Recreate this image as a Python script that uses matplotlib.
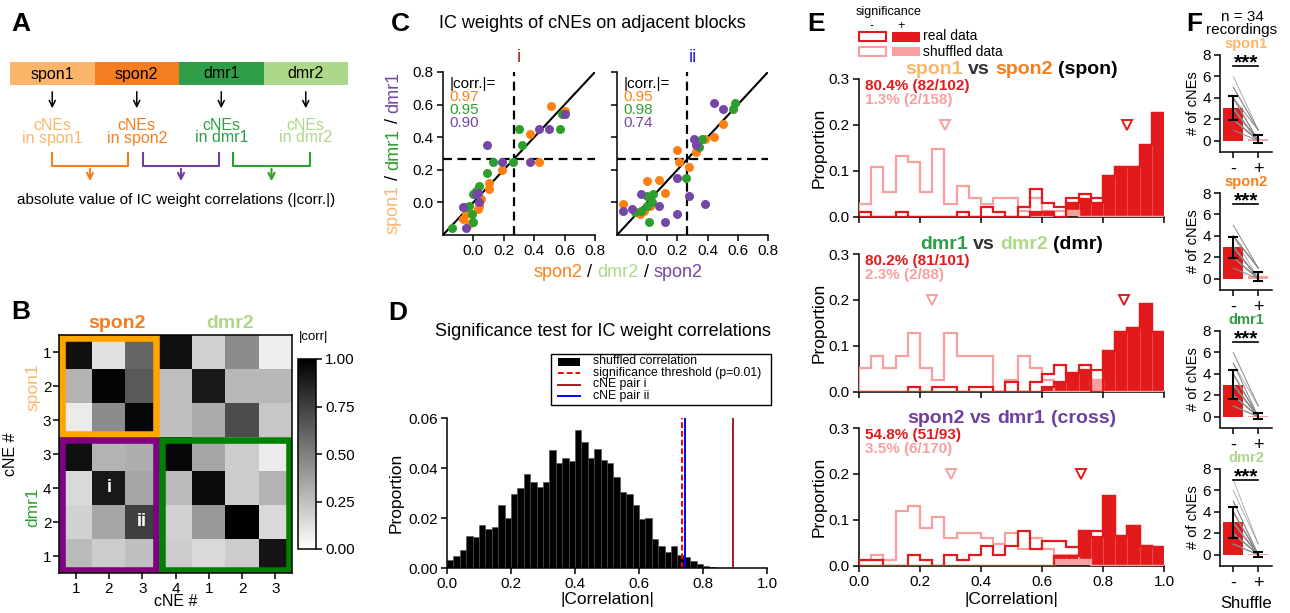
import numpy as np
import matplotlib
matplotlib.use("Agg")
import matplotlib.pyplot as plt
from matplotlib.patches import Rectangle
from matplotlib.transforms import offset_copy

W, H = 1290, 613

LORANGE = '#FBB66C'
ORANGE = '#F47E20'
GREEN = '#2E9E48'
LGREEN = '#AED889'
PURPLE = '#7040A0'
S_ORANGE = '#FF8012'
S_GREEN = '#2CA02C'
S_PURPLE = '#7446A6'
RED = '#E31A1C'
PINK = '#F8A0A0'
DARK = '#333333'

# ---------------- panel A
blocks = ['spon1', 'spon2', 'dmr1', 'dmr2']
block_colors = [LORANGE, ORANGE, GREEN, LGREEN]
pair_colors = [ORANGE, PURPLE, S_GREEN]

# ---------------- panel B (|corr| between cNEs)
b_corr = [
    [0.93, 0.12, 0.60, 0.93, 0.18, 0.45, 0.07],
    [0.30, 0.98, 0.65, 0.25, 0.90, 0.28, 0.28],
    [0.08, 0.45, 0.97, 0.25, 0.33, 0.70, 0.22],
    [0.93, 0.30, 0.32, 0.97, 0.35, 0.20, 0.08],
    [0.15, 0.90, 0.35, 0.27, 0.95, 0.20, 0.30],
    [0.18, 0.35, 0.75, 0.18, 0.40, 1.00, 0.15],
    [0.27, 0.20, 0.25, 0.20, 0.15, 0.20, 0.92],
]
b_xticks = ['1', '2', '3', '4', '1', '2', '3']
b_yticks = ['1', '2', '3', '3', '4', '2', '1']

# ---------------- panel C (IC weights)
ci_orange_x = [0.51, 0.60, 0.37, 0.43, 0.19, 0.10, 0.10, 0.05, 0.04, 0.03, -0.05, -0.03, -0.07, -0.01]
ci_orange_y = [0.59, 0.56, 0.42, 0.25, 0.20, 0.12, 0.08, 0.02, -0.02, -0.04, -0.07, -0.13, -0.10, -0.12]
ci_green_x = [0.58, 0.57, 0.30, 0.32, 0.13, 0.26, 0.09, 0.04, 0.02, 0.00, -0.03, -0.01, 0.00, -0.14, -0.05]
ci_green_y = [0.54, 0.45, 0.45, 0.35, 0.25, 0.25, 0.18, 0.10, 0.07, 0.05, -0.02, -0.07, -0.12, -0.16, -0.03]
ci_purple_x = [0.60, 0.50, 0.43, 0.37, 0.19, 0.09, 0.03, 0.02, -0.07, -0.05, 0.04]
ci_purple_y = [0.54, 0.45, 0.45, 0.25, 0.25, 0.35, 0.06, 0.05, -0.03, -0.16, 0.00]

cii_orange_x = [-0.16, 0.00, 0.08, 0.12, 0.20, 0.21, 0.28, 0.32, 0.38, 0.44, 0.50, -0.05, 0.02, -0.02]
cii_orange_y = [-0.01, 0.13, 0.14, 0.06, 0.32, 0.25, 0.22, 0.31, 0.39, 0.40, 0.48, -0.07, -0.02, -0.05]
cii_green_x = [0.58, 0.57, 0.36, 0.34, 0.26, 0.04, 0.00, 0.00, -0.08, 0.01, -0.04, 0.03]
cii_green_y = [0.61, 0.57, 0.39, 0.34, 0.15, 0.05, 0.04, -0.02, -0.06, -0.12, -0.05, 0.00]
cii_purple_x = [0.44, 0.50, 0.31, 0.32, 0.20, 0.28, 0.38, 0.20, 0.12, 0.08, -0.04, -0.16, -0.10]
cii_purple_y = [0.61, 0.57, 0.39, 0.35, 0.15, 0.04, -0.01, -0.07, -0.12, -0.02, 0.05, -0.05, -0.04]

ci_corr = ['0.97', '0.95', '0.90']
cii_corr = ['0.95', '0.98', '0.74']
c_thresh = 0.265

# ---------------- panel D (shuffled |corr| distribution, bins of 0.02)
d_props = [0.0034, 0.0047, 0.0074, 0.0127, 0.0125, 0.0174, 0.0158, 0.0165, 0.0252, 0.0201,
           0.0296, 0.0319, 0.0376, 0.0346, 0.0325, 0.0346, 0.0473, 0.0419, 0.0439, 0.0430,
           0.0553, 0.0506, 0.0439, 0.0476, 0.0433, 0.0419, 0.0366, 0.0305, 0.0298, 0.0252,
           0.0198, 0.0201, 0.0118, 0.0088, 0.0064, 0.0087, 0.0054, 0.0044, 0.0027, 0.0015,
           0.0010, 0.0004, 0.0002, 0.0001, 0.0001, 0.0001, 0.0001, 0.0, 0.0, 0.0]
d_thresh = 0.733
d_pair_i = 0.895
d_pair_ii = 0.745

# ---------------- panel E (bins of 0.04)
e_spon_real_sig = [0, 0, 0, 0, 0, 0, 0, 0, 0, 0, 0, 0, 0, 0, .010, .010, 0, .030, .039, .030, .088, .108, .108, .157, .225]
e_spon_real_non = [.010, 0, 0, .010, 0, 0, 0, 0, .010, 0, .020, .010, 0, .020, .049, .020, .020, .010, .010, .010, 0, 0, 0, 0, 0]
e_spon_shuf_sig = [0, 0, 0, 0, 0, 0, 0, 0, 0, 0, 0, 0, 0, 0, 0, 0, 0, .013, 0, 0, 0, 0, 0, 0, 0]
e_spon_shuf_non = [.027, .107, .053, .133, .120, .053, .147, .027, .067, .040, .027, .040, .040, .013, .040, .013, .013, 0, 0, 0, 0, 0, 0, 0, 0]

e_dmr_real_sig = [0, 0, 0, 0, 0, 0, 0, 0, 0, 0, 0, 0, 0, 0, 0, .010, .020, .040, .048, 0, .089, .129, .139, .190, .130]
e_dmr_real_non = [0, 0, 0, 0, .010, 0, .010, .010, 0, .010, .010, 0, .020, 0, .020, .028, .037, 0, .010, .048, 0, 0, 0, 0, 0]
e_dmr_shuf_sig = [0, 0, 0, 0, 0, 0, 0, 0, 0, 0, 0, 0, 0, 0, 0, 0, 0, 0, 0, .026, 0, 0, 0, 0, 0]
e_dmr_shuf_non = [.051, .077, .051, .077, .128, .051, .026, .128, .077, .077, .077, 0, .026, .077, .051, .026, 0, 0, 0, 0, 0, 0, 0, 0, 0]

e_cross_real_sig = [0, 0, 0, 0, 0, 0, 0, 0, 0, 0, 0, 0, 0, 0, 0, 0, .020, .020, .076, .062, .152, .065, .087, .043, .040]
e_cross_real_non = [.011, .011, 0, 0, .022, .011, 0, .022, .011, .022, .043, .022, .043, .075, .035, .054, .034, .021, 0, .014, 0, 0, 0, 0, 0]
e_cross_shuf_sig = [0, 0, 0, 0, 0, 0, 0, 0, 0, 0, 0, 0, 0, 0, 0, 0, .012, .012, .012, 0, 0, 0, 0, 0, 0]
e_cross_shuf_non = [.012, .024, .012, .118, .129, .082, .106, .059, .071, .071, .059, .047, .071, .035, .059, .035, .012, .012, 0, 0, 0, 0, 0, 0, 0]

e_real_pct = ['80.4% (82/102)', '80.2% (81/101)', '54.8% (51/93)']
e_shuf_pct = ['1.3% (2/158)', '2.3% (2/88)', '3.5% (6/170)']
e_real_median = [0.879, 0.870, 0.728]
e_shuf_median = [0.282, 0.240, 0.300]

# ---------------- panel F (# of cNEs per recording, n = 34)
f_names = ['spon1', 'spon2', 'dmr1', 'dmr2']
f_colors = [LORANGE, ORANGE, GREEN, LGREEN]
f_real = [
    [6, 5, 5, 5, 4, 4, 4, 4, 4, 3, 3, 3, 3, 3, 3, 3, 3, 3, 3, 3, 3, 2, 2, 2, 2, 2, 2, 2, 2, 2, 1, 1, 4, 3],
    [5, 5, 4, 4, 4, 4, 4, 4, 3, 3, 3, 3, 3, 3, 3, 3, 3, 3, 3, 3, 3, 2, 2, 2, 2, 2, 2, 2, 2, 4, 2, 1, 1, 3],
    [6, 6, 5, 5, 4, 4, 4, 4, 3, 3, 3, 3, 3, 3, 3, 3, 3, 2, 2, 2, 2, 2, 2, 2, 2, 2, 1, 1, 1, 1, 4, 3, 3, 5],
    [7, 6, 5, 5, 5, 4, 4, 4, 4, 3, 3, 3, 3, 3, 3, 3, 2, 2, 2, 2, 2, 2, 2, 2, 1, 1, 1, 1, 4, 3, 4, 3, 2, 2],
]
f_shuf = [
    [1] * 6 + [0] * 28,
    [1] * 8 + [0] * 26,
    [1] * 3 + [0] * 31,
    [1] * 2 + [0] * 32,
]

plt.rcParams['font.family'] = ['Liberation Sans', 'DejaVu Sans']
plt.rcParams.update({
    'axes.linewidth': 1.1,
    'xtick.major.width': 1.1, 'ytick.major.width': 1.1,
    'xtick.major.size': 4, 'ytick.major.size': 4,
    'xtick.labelsize': 11, 'ytick.labelsize': 11,
    'xtick.major.pad': 2.5, 'ytick.major.pad': 2.5,
})

fig = plt.figure(figsize=(W / 100, H / 100), dpi=100)
renderer = fig.canvas.get_renderer()


def px_axes(x0, y0, x1, y1):
    return fig.add_axes([x0 / W, 1 - y1 / H, (x1 - x0) / W, (y1 - y0) / H])


def clean(ax):
    ax.spines[['top', 'right']].set_visible(False)


def multicolor(ax, x, y, parts, transform, size, weight='normal', rotation=0):
    """Text made of coloured pieces, centred on (x, y)."""
    texts, lens = [], []
    for s, c in parts:
        t = ax.text(x, y, s, color=c, fontsize=size, weight=weight, transform=transform,
                    rotation=rotation, rotation_mode='anchor', ha='left', va='baseline')
        bb = t.get_window_extent(renderer)
        lens.append(bb.height if rotation else bb.width)
        texts.append(t)
    gap = 0.28 * size * fig.dpi / 72
    off = -(sum(lens) + gap * (len(parts) - 1)) / 2
    for t, ln in zip(texts, lens):
        dx, dy = (0, off) if rotation else (off, 0)
        t.set_transform(offset_copy(transform, x=dx, y=dy, units='dots'))
        off += ln + gap


# overlay in pixel coordinates for free text
ov = fig.add_axes([0, 0, 1, 1])
ov.set_xlim(0, W)
ov.set_ylim(H, 0)
ov.axis('off')
ov.set_zorder(10)

for letter, (lx, ly) in zip('ABCDEF', [(21, 24), (21, 312), (400, 24), (398, 313), (816, 24), (1194, 24)]):
    ov.text(lx, ly, letter, fontsize=19, weight='bold', ha='center', va='center')

# ---------------- A
seg = 84.5
for i, (name, col) in enumerate(zip(blocks, block_colors)):
    x0 = 10 + i * seg
    cx = x0 + seg / 2
    ov.add_patch(Rectangle((x0, 62), seg, 23, color=col, lw=0))
    ov.text(cx, 74, name, fontsize=11.5, ha='center', va='center')
    ov.annotate('', xy=(cx, 111), xytext=(cx, 89),
                arrowprops=dict(arrowstyle='->', color='k', lw=1.1, mutation_scale=11))
    ov.text(cx, 125, 'cNEs', color=col, fontsize=11.5, ha='center', va='center')
    ov.text(cx, 138, 'in ' + name, color=col, fontsize=11.5, ha='center', va='center')

for (x0, x1), col in zip([(52, 128), (143, 219), (233, 310)], pair_colors):
    ov.plot([x0, x0, x1, x1], [152, 166, 166, 152], color=col, lw=1.5, solid_capstyle='butt')
    xm = (x0 + x1) / 2
    ov.annotate('', xy=(xm, 184), xytext=(xm, 166),
                arrowprops=dict(arrowstyle='->', color=col, lw=1.5, mutation_scale=11))
ov.text(176, 200, 'absolute value of IC weight correlations (|corr.|)', fontsize=11, ha='center', va='center')

# ---------------- B
axb = px_axes(59, 335, 292, 573)
im = axb.imshow(np.array(b_corr), cmap='gray_r', vmin=0, vmax=1, aspect='auto', interpolation='nearest')
axb.set_xticks(range(7), b_xticks)
axb.set_yticks(range(7), b_yticks)
axb.tick_params(labelsize=11)
axb.tick_params(axis='y', pad=1.5)
ins = 0.1
for (c0, r0, nc, nr), col in zip([(0, 0, 3, 3), (0, 3, 3, 4), (3, 3, 4, 4)], ['#FFA500', '#800080', '#008000']):
    axb.add_patch(Rectangle((c0 - 0.5 + ins, r0 - 0.5 + ins), nc - 2 * ins, nr - 2 * ins,
                            fill=False, ec=col, lw=4.7))
axb.text(1, 4, 'i', color='white', fontsize=13, weight='bold', ha='center', va='center')
axb.text(2, 5, 'ii', color='white', fontsize=13, weight='bold', ha='center', va='center')
axb.set_xlabel('cNE #', fontsize=11.5)
axb.xaxis.set_label_coords(0.5, -0.09)
axb.set_ylabel('cNE #', fontsize=11.5)
axb.yaxis.set_label_coords(-0.175, 0.5)
ov.text(117, 323, 'spon2', color=ORANGE, fontsize=14, weight='bold', ha='center', va='center')
ov.text(230, 323, 'dmr2', color=LGREEN, fontsize=14, weight='bold', ha='center', va='center')
ov.text(33, 387, 'spon1', color=LORANGE, fontsize=12.5, rotation=90, ha='center', va='center')
ov.text(33, 507, 'dmr1', color=S_GREEN, fontsize=12.5, rotation=90, ha='center', va='center')

cax = px_axes(298, 359, 316, 549)
cb = fig.colorbar(im, cax=cax, ticks=[0, 0.25, 0.5, 0.75, 1.0], format='%.2f')
cb.outline.set_linewidth(1.1)
cax.tick_params(labelsize=11)
ov.text(299, 337, '|corr|', fontsize=9.5, ha='left', va='center')

# ---------------- C
c_series = [
    [(ci_orange_x, ci_orange_y, S_ORANGE), (ci_green_x, ci_green_y, S_GREEN), (ci_purple_x, ci_purple_y, S_PURPLE)],
    [(cii_orange_x, cii_orange_y, S_ORANGE), (cii_green_x, cii_green_y, S_GREEN), (cii_purple_x, cii_purple_y, S_PURPLE)],
]
for k, (box, series, corr, tag, tagc) in enumerate(zip(
        [(443, 72, 595, 235), (617, 72, 768, 235)], c_series, [ci_corr, cii_corr],
        ['i', 'ii'], ['#A01E1E', '#1F1FE0'])):
    ax = px_axes(*box)
    clean(ax)
    ax.set_xlim(-0.2, 0.8)
    ax.set_ylim(-0.2, 0.8)
    ticks = [0.0, 0.2, 0.4, 0.6, 0.8]
    ax.set_xticks(ticks, ['%.1f' % t for t in ticks])
    ax.set_yticks(ticks, ['%.1f' % t for t in ticks])
    if k == 1:
        ax.tick_params(labelleft=False)
    ax.plot([-0.2, 0.8], [-0.2, 0.8], color='k', lw=1.5, zorder=2)
    ax.axvline(c_thresh, color='k', ls=(0, (4, 2.5)), lw=1.6, zorder=2)
    ax.axhline(c_thresh, color='k', ls=(0, (4, 2.5)), lw=1.6, zorder=2)
    for xs, ys, col in series:
        ax.scatter(xs, ys, s=42, color=col, lw=0, zorder=3)
    ax.text(0.045, 0.926, '|corr.|=', transform=ax.transAxes, fontsize=11, va='center')
    for j, (v, col) in enumerate(zip(corr, [S_ORANGE, S_GREEN, S_PURPLE])):
        ax.text(0.045, 0.847 - 0.079 * j, v, color=col, transform=ax.transAxes, fontsize=11, va='center')
    ax.text(0.5, 1.09, tag, color=tagc, transform=ax.transAxes, fontsize=13, ha='center', va='center')

ov.text(592, 24, 'IC weights of cNEs on adjacent blocks', fontsize=13, ha='center', va='center')
multicolor(ov, 618, 277, [('spon2', S_ORANGE), ('/', 'k'), ('dmr2', LGREEN), ('/', 'k'), ('spon2', S_PURPLE)],
           ov.transData, 13)
multicolor(ov, 398, 153, [('spon1', LORANGE), ('/', 'k'), ('dmr1', S_GREEN), ('/', 'k'), ('dmr1', S_PURPLE)],
           ov.transData, 13, rotation=90)

# ---------------- D
axd = px_axes(447, 418, 767, 568)
clean(axd)
d_edges = np.linspace(0, 1, len(d_props) + 1)
axd.bar(d_edges[:-1], d_props, width=0.02, align='edge', color='k', edgecolor='0.3', lw=0.4)
axd.axvline(d_thresh, color='red', ls=(0, (3, 1.5)), lw=1.4)
axd.axvline(d_pair_ii, color='blue', lw=1.4)
axd.axvline(d_pair_i, color='#A01E1E', lw=1.4)
axd.set_xlim(0, 1)
axd.set_ylim(0, 0.06)
axd.set_xticks(np.linspace(0, 1, 6), ['%.1f' % t for t in np.linspace(0, 1, 6)])
axd.set_yticks([0, 0.02, 0.04, 0.06], ['0.00', '0.02', '0.04', '0.06'])
axd.set_xlabel('|Correlation|', fontsize=12.5)
axd.xaxis.set_label_coords(0.5, -0.16)
axd.set_ylabel('Proportion', fontsize=12.5)
axd.yaxis.set_label_coords(-0.135, 0.5)
ov.text(603, 332, 'Significance test for IC weight correlations', fontsize=13, ha='center', va='center')

# manual legend for D
ov.add_patch(Rectangle((551, 354), 220, 51, fill=False, ec='k', lw=1.0))
leg_rows = [361.5, 373, 384.5, 396]
ov.add_patch(Rectangle((558, leg_rows[0] - 4), 22, 8, color='k', lw=0))
ov.plot([558, 580], [leg_rows[1]] * 2, color='red', ls=(0, (3, 1.5)), lw=1.4)
ov.plot([558, 580], [leg_rows[2]] * 2, color='#A01E1E', lw=1.4)
ov.plot([558, 580], [leg_rows[3]] * 2, color='blue', lw=1.4)
for yy, lab in zip(leg_rows, ['shuffled correlation', 'significance threshold (p=0.01)', 'cNE pair i', 'cNE pair ii']):
    ov.text(593, yy, lab, fontsize=8.8, ha='left', va='center')

# ---------------- E
e_edges = np.linspace(0, 1, 26)
e_sets = [
    (e_spon_real_sig, e_spon_real_non, e_spon_shuf_sig, e_spon_shuf_non),
    (e_dmr_real_sig, e_dmr_real_non, e_dmr_shuf_sig, e_dmr_shuf_non),
    (e_cross_real_sig, e_cross_real_non, e_cross_shuf_sig, e_cross_shuf_non),
]
e_titles = [
    [('spon1', LORANGE), ('vs', DARK), ('spon2', ORANGE), ('(spon)', 'k')],
    [('dmr1', GREEN), ('vs', DARK), ('dmr2', LGREEN), ('(dmr)', 'k')],
    [('spon2', PURPLE), ('vs', PURPLE), ('dmr1', PURPLE), ('(cross)', PURPLE)],
]
for k, (top, (rs, rn, ss, sn)) in enumerate(zip([79, 254, 428], e_sets)):
    ax = px_axes(859, top, 1164, top + 137.5)
    clean(ax)
    rs, rn, ss, sn = map(np.array, (rs, rn, ss, sn))
    ax.bar(e_edges[:-1], rs, width=0.04, align='edge', color=RED, edgecolor='#EE5555', lw=0.4, zorder=1)
    ax.bar(e_edges[:-1], ss, width=0.04, align='edge', color=PINK, lw=0, zorder=2)
    ax.stairs(ss + sn, e_edges, baseline=ss, fill=False, color=PINK, lw=1.6, zorder=3)
    ax.stairs(rs + rn, e_edges, baseline=rs, fill=False, color=RED, lw=1.6, zorder=4)
    ax.plot(e_shuf_median[k], 0.2, marker='v', ms=6.5, mfc='white', mec=PINK, mew=1.4)
    ax.plot(e_real_median[k], 0.2, marker='v', ms=6.5, mfc='white', mec=RED, mew=1.4)
    ax.set_xlim(0, 1)
    ax.set_ylim(0, 0.3)
    ax.set_xticks(np.linspace(0, 1, 6), ['%.1f' % t for t in np.linspace(0, 1, 6)])
    ax.set_yticks([0, 0.1, 0.2, 0.3], ['0.0', '0.1', '0.2', '0.3'])
    if k < 2:
        ax.tick_params(labelbottom=False)
    else:
        ax.set_xlabel('|Correlation|', fontsize=12.5)
        ax.xaxis.set_label_coords(0.5, -0.195)
    ax.set_ylabel('Proportion', fontsize=12.5)
    ax.yaxis.set_label_coords(-0.105, 0.5)
    ax.text(0.02, 0.95, e_real_pct[k], color=RED, weight='bold', fontsize=11, transform=ax.transAxes, va='center')
    ax.text(0.02, 0.847, e_shuf_pct[k], color=PINK, weight='bold', fontsize=11, transform=ax.transAxes, va='center')
    multicolor(ax, 0.5, 1.035, e_titles[k], ax.transAxes, 14, weight='bold')

# legend for E
ov.text(889, 12.5, 'significance', fontsize=9, ha='center', va='center')
ov.text(872, 26, '-', fontsize=9, ha='center', va='center')
ov.text(901, 26, '+', fontsize=9, ha='center', va='center')
ov.add_patch(Rectangle((858.5, 32), 27, 9, fill=False, ec=RED, lw=1.5))
ov.add_patch(Rectangle((892, 32), 27.5, 9.5, color=RED, lw=0))
ov.add_patch(Rectangle((858.5, 47), 27, 8.5, fill=False, ec=PINK, lw=1.5))
ov.add_patch(Rectangle((892, 47), 27.5, 9, color=PINK, lw=0))
ov.text(923, 36.5, 'real data', fontsize=10, ha='left', va='center')
ov.text(923, 51.5, 'shuffled data', fontsize=10, ha='left', va='center')

# ---------------- F
ov.text(1242, 17, 'n = 34', fontsize=11, ha='center', va='center')
ov.text(1242, 30, 'recordings', fontsize=11, ha='center', va='center')
for k, top in enumerate([55, 193, 331, 469]):
    ax = px_axes(1220, top, 1272, top + 96.5)
    clean(ax)
    real = np.array(f_real[k])
    shuf = np.array(f_shuf[k])
    means = [real.mean(), shuf.mean()]
    errs = [real.std(), shuf.std()]
    ax.bar([0, 1], means, width=0.8, color=[RED, PINK], zorder=1)
    for a, b in zip(real, shuf):
        ax.plot([0, 1], [a, b], color='0.55', lw=0.6, alpha=0.8, zorder=2)
    ax.errorbar([0, 1], means, yerr=errs, fmt='none', ecolor='k', elinewidth=1.5,
                capsize=3.5, capthick=1.5, zorder=3)
    ax.plot([0, 1], [7, 7], color='k', lw=1.2, clip_on=False)
    ax.text(0.5, 6.75, '***', fontsize=15, weight='bold', ha='center', va='baseline')
    ax.set_xlim(-0.53, 1.55)
    ax.set_ylim(-1, 8)
    ax.set_yticks([0, 2, 4, 6, 8])
    ax.set_xticks([0, 1], ['-', '+'])
    ax.tick_params(axis='x', labelsize=13)
    ax.set_ylabel('# of cNEs', fontsize=10.5)
    ax.yaxis.set_label_coords(-0.385, 0.5)
    ax.text(0.5, 1.11, f_names[k], color=f_colors[k], fontsize=10.5, weight='bold',
            transform=ax.transAxes, ha='center', va='center')
    if k == 3:
        ax.set_xlabel('Shuffle', fontsize=12)
        ax.xaxis.set_label_coords(0.5, -0.32)

fig.savefig('out.png', dpi=100)
